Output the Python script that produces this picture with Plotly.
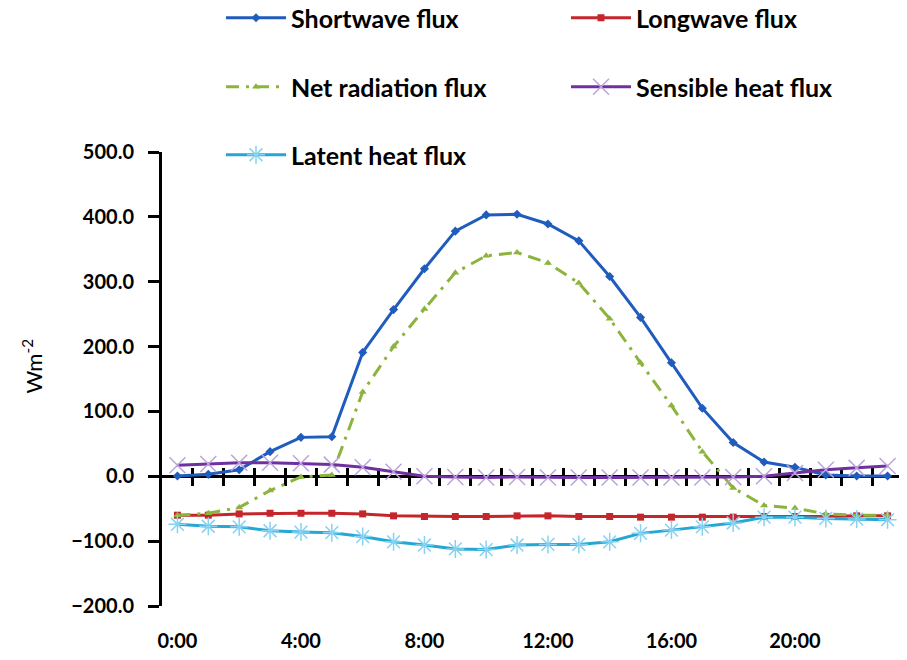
import plotly.graph_objects as go

hours = list(range(24))
tick_hours = [0, 4, 8, 12, 16, 20]
tick_labels = ["0:00", "4:00", "8:00", "12:00", "16:00", "20:00"]
y_ticks = [500, 400, 300, 200, 100, 0, -100, -200]

shortwave = [0.5, 3, 10, 38, 60, 61, 191, 257, 320, 378, 403, 404,
             389, 363, 308, 245, 175, 105, 52, 22, 14, 2, 0.5, 0.5]
longwave = [-60, -60, -58, -57, -57, -57, -58, -61, -62, -62, -62, -61,
            -61, -62, -62, -63, -63, -63, -63, -62, -62, -62, -61, -61]
net_radiation = [-60, -57, -48, -22, -1, 2, 130, 200, 258, 314, 340, 345,
                 329, 298, 243, 175, 109, 38, -18, -45, -49, -58, -60, -60]
sensible = [17, 19, 21, 21, 20, 18, 14, 7, 0, -1, -2, -1,
            -2, -2, -2, -2, -2, -2, -1, 0, 5, 10, 13, 16]
latent = [-74, -77, -78, -84, -86, -87, -93, -101, -106, -112, -113, -106,
          -105, -105, -101, -88, -83, -78, -72, -63, -63, -65, -66, -67]

FONT = "Lato"
W, H = 907, 660
OFF = 8  # page body margin offset

fig = go.Figure()

series = [
    ("Shortwave flux", shortwave, dict(color="#1F5CBE", width=3, dash="solid"),
     dict(symbol="diamond", size=7, color="#1F5CBE"), "legend"),
    ("Longwave flux", longwave, dict(color="#C4262B", width=3, dash="solid"),
     dict(symbol="square", size=7, color="#C4262B"), "legend2"),
    ("Net radiation flux", net_radiation, dict(color="#8CB43C", width=3, dash="13px,7px,3px,7px"),
     dict(symbol="triangle-up", size=7, color="#8CB43C"), "legend3"),
    ("Sensible heat flux", sensible, dict(color="#7030A0", width=3, dash="solid"),
     dict(symbol="x-thin", size=16, line=dict(color="#BBA3DA", width=1.5), color="#BBA3DA"), "legend4"),
    ("Latent heat flux", latent, dict(color="#25A7D3", width=3, dash="solid"),
     dict(symbol="asterisk-open", size=15, line=dict(color="#86D2F0", width=1.5), color="#86D2F0"), "legend5"),
]

for name, vals, line, marker, lg in series:
    fig.add_trace(go.Scatter(x=hours, y=vals, name=name, mode="lines+markers",
                             line=line, marker=marker, legend=lg))

# legend positions (screen pixels of the left end of the key line, row centre)
legend_pos = {
    "legend": (226, 18),
    "legend2": (571, 18),
    "legend3": (226, 87),
    "legend4": (571, 87),
    "legend5": (226, 155),
}
legend_font = dict(family=FONT, size=25, color="black", weight="bold")
for key, (px, py) in legend_pos.items():
    fig.update_layout(**{key: dict(x=(px - OFF - 5) / W, y=1 - (py - OFF) / H,
                                   xref="container", yref="container",
                                   xanchor="left", yanchor="middle", font=legend_font,
                                   itemwidth=60,
                                   bgcolor="rgba(0,0,0,0)", borderwidth=0)})

zero_pos = (0 - (-200)) / (500 - (-200))
between = [h + 0.5 for h in hours[:-1]]

fig.update_layout(
    width=W, height=H,
    margin=dict(l=154, r=12, t=144, b=62, autoexpand=False),
    paper_bgcolor="white", plot_bgcolor="white",
    xaxis=dict(range=[-0.5, 23.5], tickvals=tick_hours, ticktext=tick_labels,
               showline=False, showgrid=False, zeroline=False, ticks="",
               tickfont=dict(family=FONT, size=20, color="black", weight="bold"),
               ticklabelstandoff=21),
    xaxis2=dict(range=[-0.5, 23.5], overlaying="x", anchor="free", position=zero_pos,
                side="bottom", tickvals=between, showticklabels=False, showgrid=False,
                zeroline=False, showline=True, linecolor="black", linewidth=3,
                ticks="outside", ticklen=8, tickwidth=3, tickcolor="black", layer="below traces"),
    xaxis3=dict(range=[-0.5, 23.5], overlaying="x", anchor="free", position=zero_pos,
                side="bottom", tickvals=between, showticklabels=False, showgrid=False,
                zeroline=False, showline=False,
                ticks="inside", ticklen=8, tickwidth=3, tickcolor="black", layer="below traces"),
    yaxis=dict(range=[-200, 500], tickvals=y_ticks, tickformat=".1f",
               showline=True, linecolor="black", linewidth=3, showgrid=False, zeroline=False,
               ticks="outside", ticklen=11, tickwidth=3, tickcolor="black",
               tickfont=dict(family=FONT, size=20, color="black", weight="bold"),
               ticklabelstandoff=10),
    annotations=[dict(text="Wm<sup>-2</sup>", xref="paper", yref="paper",
                      x=-(162 - 32) / (907 - 154 - 12), xanchor="center",
                      y=(605 - 366) / (605 - 152), yanchor="middle",
                      textangle=-90, showarrow=False,
                      font=dict(family=FONT, size=22, color="black"))],
)

# invisible traces to attach overlay axes
fig.add_trace(go.Scatter(x=[None], y=[None], xaxis="x2", showlegend=False, hoverinfo="skip"))
fig.add_trace(go.Scatter(x=[None], y=[None], xaxis="x3", showlegend=False, hoverinfo="skip"))

fig.write_html("out.html")
